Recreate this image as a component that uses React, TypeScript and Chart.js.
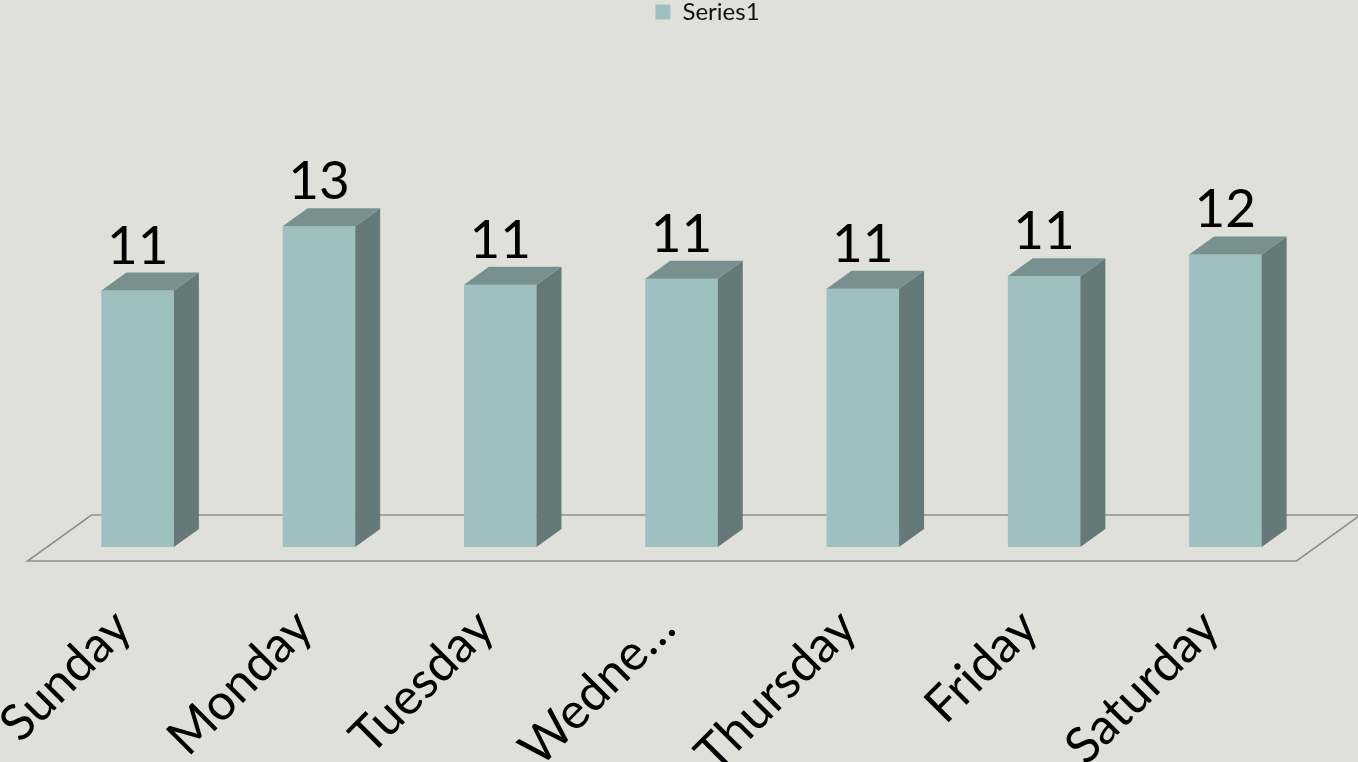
import React, { useEffect, useRef } from "react";
import { Chart, registerables } from "chart.js";

Chart.register(...registerables);

const categories: string[] = ["Sunday", "Monday", "Tuesday", "Wedne…", "Thursday", "Friday", "Saturday"];
const seriesName = "Series1";
const series1: number[] = [10.75, 13.07, 10.96, 11.17, 10.81, 11.26, 12.05];

const BG = "#E0E0DA";
const FRONT = "#9FC0C0";
const TOP = "#789090";
const SIDE = "#657979";
const FLOOR_LINE = "#8E8E8E";
const FONT = "Lato, 'Open Sans', sans-serif";

const DEPTH_X = 25;
const DEPTH_Y = -18;
const LEGEND_SHIFT = 26;

const threeD = {
  id: "threeD",
  afterLayout(chart: any) {
    const lg = chart.legend;
    if (lg) {
      lg.left += LEGEND_SHIFT;
      lg.right += LEGEND_SHIFT;
    }
  },
  beforeDatasetsDraw(chart: any) {
    const { ctx, chartArea } = chart;
    const b = chartArea.bottom;
    const L = chartArea.left;
    const R = chartArea.right;
    const k = DEPTH_X / -DEPTH_Y;
    const fy = 14;
    const fx = fy * k;
    ctx.save();
    ctx.strokeStyle = FLOOR_LINE;
    ctx.lineWidth = 1.6;
    ctx.beginPath();
    ctx.moveTo(L - fx, b + fy);
    ctx.lineTo(R - fx, b + fy);
    ctx.lineTo(R + DEPTH_X + fx, b + DEPTH_Y - fy);
    ctx.lineTo(L + DEPTH_X + fx, b + DEPTH_Y - fy);
    ctx.closePath();
    ctx.stroke();
    ctx.restore();
  },
  afterDatasetsDraw(chart: any) {
    const { ctx, chartArea } = chart;
    const meta = chart.getDatasetMeta(0);
    ctx.save();
    meta.data.forEach((bar: any, i: number) => {
      const props = bar.getProps(["x", "y", "base", "width"], true);
      const x = props.x;
      const y = props.y;
      const width = props.width;
      const base = Math.min(props.base, chartArea.bottom);
      const l = x - width / 2;
      const r = x + width / 2;
      // side face
      ctx.fillStyle = SIDE;
      ctx.beginPath();
      ctx.moveTo(r, y);
      ctx.lineTo(r + DEPTH_X, y + DEPTH_Y);
      ctx.lineTo(r + DEPTH_X, base + DEPTH_Y);
      ctx.lineTo(r, base);
      ctx.closePath();
      ctx.fill();
      // top face
      ctx.fillStyle = TOP;
      ctx.beginPath();
      ctx.moveTo(l, y);
      ctx.lineTo(l + DEPTH_X, y + DEPTH_Y);
      ctx.lineTo(r + DEPTH_X, y + DEPTH_Y);
      ctx.lineTo(r, y);
      ctx.closePath();
      ctx.fill();
      // value label
      const v = chart.data.datasets[0].data[i] as number;
      ctx.fillStyle = "#000000";
      ctx.font = `53px ${FONT}`;
      ctx.textAlign = "center";
      ctx.textBaseline = "alphabetic";
      ctx.fillText(String(Math.round(v)), x, y - 27);
    });
    ctx.restore();
  },
};

export default function App() {
  const ref = useRef<HTMLCanvasElement | null>(null);

  useEffect(() => {
    if (!ref.current) return;
    const chart = new Chart(ref.current, {
      type: "bar",
      data: {
        labels: categories,
        datasets: [
          {
            label: seriesName,
            data: series1,
            backgroundColor: FRONT,
            borderWidth: 0,
            categoryPercentage: 1,
            barPercentage: 0.4,
          },
        ],
      },
      options: {
        animation: false,
        responsive: false,
        maintainAspectRatio: false,
        layout: { padding: { left: 47, right: 42, top: 0, bottom: 0 } },
        plugins: {
          legend: {
            display: true,
            position: "top",
            labels: {
              boxWidth: 15,
              boxHeight: 15,
              padding: 0,
              color: "#111111",
              font: { family: FONT, size: 24 },
            },
          },
          tooltip: { enabled: false },
        },
        scales: {
          x: {
            grid: { display: false, drawTicks: false },
            border: { display: false },
            ticks: {
              autoSkip: false,
              minRotation: 45,
              maxRotation: 45,
              padding: 51,
              labelOffset: -15,
              color: "#000000",
              font: { family: FONT, size: 50 },
            },
            afterFit: (scale: any) => {
              scale.height = 215;
              scale.paddingLeft = 0;
              scale.paddingRight = 0;
            },
          },
          y: {
            display: false,
            min: 1.5,
            max: 20,
          },
        },
      },
      plugins: [threeD],
    });
    return () => chart.destroy();
  }, []);

  return (
    <div style={{ position: "absolute", left: 0, top: 0, width: 1358, height: 762, background: BG, overflow: "hidden" }}>
      <canvas ref={ref} width={1358} height={762} style={{ display: "block" }} />
    </div>
  );
}
